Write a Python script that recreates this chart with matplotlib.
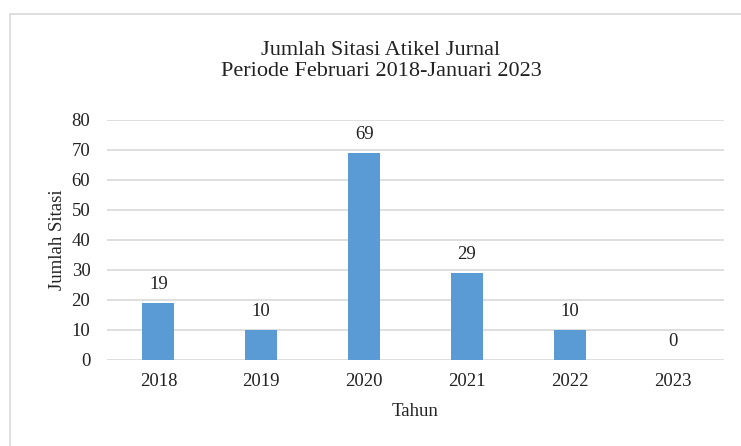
import matplotlib.pyplot as plt
from matplotlib.patches import Rectangle

tahun = ["2018", "2019", "2020", "2021", "2022", "2023"]
sitasi = [19, 10, 69, 29, 10, 0]

plt.rcParams['font.family'] = ['Liberation Serif', 'DejaVu Serif']

fig = plt.figure(figsize=(7.41, 4.46), dpi=100)
# bingkai luar chart
fig.patches.append(Rectangle((10 / 741, -0.1), 1.2, 1.1 - 14 / 446, transform=fig.transFigure,
                             fill=False, edgecolor='#d9d9d9', linewidth=1.2))

ax = fig.add_axes([107 / 741, 1 - 360 / 446, 617 / 741, 240 / 446])
x = range(len(tahun))
bars = ax.bar(x, sitasi, width=0.31, color='#5b9bd5', zorder=3)

for xi, v in zip(x, sitasi):
    ax.annotate(str(v), (xi, v), xytext=(0, 7), textcoords='offset points',
                ha='center', va='bottom', fontsize=13.5, color='#222222')

ax.set_xlim(-0.5, len(tahun) - 0.5)
ax.set_ylim(0, 80)
ax.set_yticks(range(0, 81, 10))
ax.set_xticks(list(x))
ax.set_xticklabels(tahun)
ax.yaxis.grid(True, color='#d9d9d9', linewidth=1.2, zorder=0)
ax.tick_params(length=0, labelsize=13.5, colors='#222222')
ax.tick_params(axis='x', pad=9)
ax.tick_params(axis='y', pad=12)
for s in ax.spines.values():
    s.set_visible(False)

ax.set_xlabel("Tahun", fontsize=13.5, labelpad=10, color='#222222')
ax.set_ylabel("Jumlah Sitasi", fontsize=13.5, labelpad=4, color='#222222')
fig.text(381 / 741, 1 - 61 / 446, "Jumlah Sitasi Atikel Jurnal\nPeriode Februari 2018-Januari 2023",
         ha='center', va='center', fontsize=16, color='#222222', linespacing=1.2)

fig.savefig("out.png", dpi=100)
